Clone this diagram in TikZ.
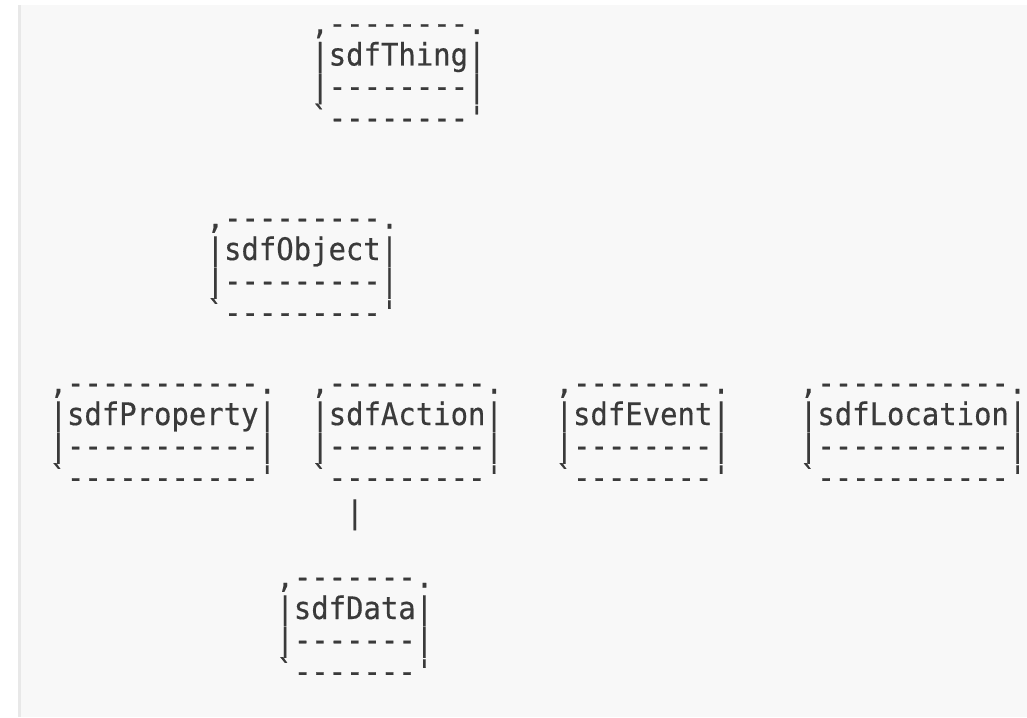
\documentclass[tikz,border=0pt]{standalone}
\usepackage{fontspec}
\newfontfamily\asciifont[FakeStretch=0.933,FakeBold=0.4,Ligatures=TeXOff]{DejaVu Sans Mono}
\definecolor{textgray}{RGB}{58,58,58}
\definecolor{panelgray}{RGB}{248,248,248}
\definecolor{rulegray}{RGB}{232,232,232}

% One ASCII-art box: name, left x, baseline of the label row, dash run, label
\newcommand\asciibox[5]{%
  \node[asc] (#1-top) at (#2,#3-31.5) {,#4.};
  \node[asc] (#1)     at (#2,#3)      {|#5|};
  \node[asc] (#1-mid) at (#2,#3+31.5) {|#4|};
  \node[asc] (#1-bot) at (#2,#3+63)   {`#4'};
}

\begin{document}
\begin{tikzpicture}[x=1pt,y=-1pt,
  asc/.style={font=\asciifont\fontsize{31}{31}\selectfont, text=textgray,
              inner sep=0pt, outer sep=0pt, anchor=base west}]
  \useasboundingbox (0,0) rectangle (1027,717);
  % code block background with its left rule
  \fill[white] (0,0) rectangle (1027,717);
  \fill[panelgray] (18,5) rectangle (1027,717);
  \fill[rulegray] (18,5) rectangle (21,717);

  \asciibox{thing}{311.35}{65.5}{--------}{sdfThing}
  \asciibox{object}{206.65}{260}{---------}{sdfObject}
  \asciibox{property}{49.6}{425}{-----------}{sdfProperty}
  \asciibox{action}{311.35}{425}{---------}{sdfAction}
  \asciibox{event}{555.65}{425}{--------}{sdfEvent}
  \asciibox{location}{799.95}{425}{-----------}{sdfLocation}
  \node[asc] (link) at (346.25,523) {|};
  \asciibox{data}{276.45}{619}{-------}{sdfData}
\end{tikzpicture}
\end{document}
